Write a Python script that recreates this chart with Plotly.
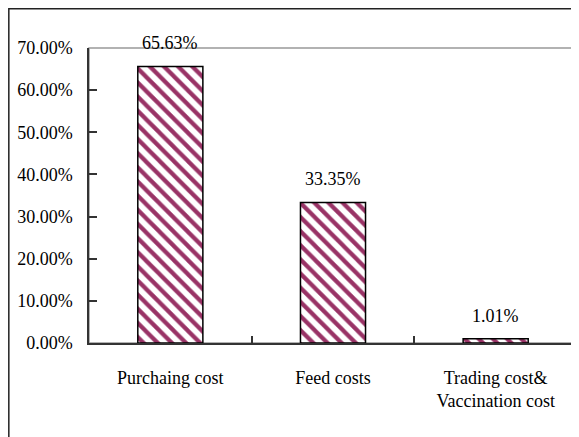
import plotly.graph_objects as go

categories = ["Purchaing cost", "Feed costs", "Trading cost&<br>Vaccination cost"]
values = [0.6563, 0.3335, 0.0101]
y_ticks = [0, 0.1, 0.2, 0.3, 0.4, 0.5, 0.6, 0.7]

FONT = "Liberation Serif"

fig = go.Figure()
fig.add_trace(go.Bar(
    x=categories,
    y=values,
    marker=dict(
        color="white",
        line=dict(color="black", width=1.5),
        pattern=dict(shape="\\", fgcolor="#993366", bgcolor="white",
                     size=10, solidity=0.42, fillmode="replace"),
    ),
    showlegend=False,
))

for c, v in zip(categories, values):
    fig.add_annotation(x=c, y=v, text=f"{v*100:.2f}%", showarrow=False,
                       yanchor="middle", yshift=23,
                       font=dict(family=FONT, size=18, color="black"))

# plot area border (grey) and outer chart border
fig.add_shape(type="rect", xref="paper", yref="paper", x0=0, y0=0, x1=0.998, y1=1,
              line=dict(color="#999999", width=1.5), layer="below")
fig.add_shape(type="rect", xref="paper", yref="paper", x0=-0.1643, y0=-0.5, x1=1.2, y1=1.1331,
              line=dict(color="#222222", width=1.5))

fig.update_layout(
    width=571, height=429,
    margin=dict(l=81, r=1.5, t=40, b=94),
    paper_bgcolor="white", plot_bgcolor="white",
    bargap=0.6,
    font=dict(family=FONT, size=18, color="black"),
    xaxis=dict(
        type="category", tickson="boundaries", ticks="inside", ticklen=7,
        tickcolor="#333333", tickwidth=1.5,
        showline=True, linecolor="#333333", linewidth=2,
        showgrid=False, ticklabelstandoff=17, automargin=False,
        tickfont=dict(family=FONT, size=18, color="black"),
    ),
    yaxis=dict(
        range=[0, 0.7], tickvals=y_ticks, tickformat=".2%",
        ticks="inside", ticklen=8, tickcolor="#333333", tickwidth=1.5,
        showline=True, linecolor="#333333", linewidth=1.5,
        showgrid=False, zeroline=False, ticklabelstandoff=11, automargin=False,
        tickfont=dict(family=FONT, size=18, color="black"),
    ),
)

fig.write_html("out.html")
